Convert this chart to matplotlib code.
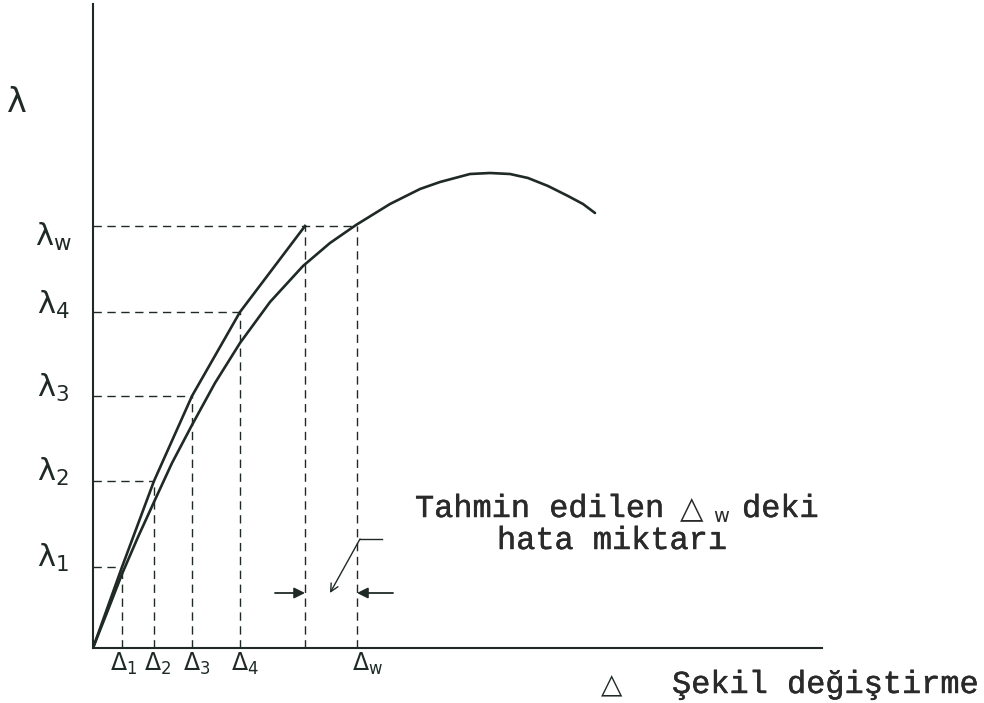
import matplotlib
matplotlib.use("Agg")
import matplotlib.pyplot as plt
import matplotlib.patheffects as pe

plt.rcParams["mathtext.fontset"] = "dejavusans"

INK = "#1f2a25"
MONO = "Liberation Mono"

# Load levels and the matching deformations of the incremental method
lam_levels = [8.1, 16.7, 25.2, 33.6, 42.2]          # λ1, λ2, λ3, λ4, λw
lam_labels = ["λ$_1$", "λ$_2$", "λ$_3$", "λ$_4$", r"λ$_\mathrm{w}$"]
delta_steps = [2.9, 6.1, 9.9, 14.7]                 # Δ1 .. Δ4
delta_labels = ["Δ$_1$", "Δ$_2$", "Δ$_3$", "Δ$_4$"]
delta_est = 21.2                                     # predicted Δw (linear steps)
delta_w = 26.4                                       # true Δw on the curve

# Incremental (piecewise linear) path
step_x = [0.0] + delta_steps + [delta_est]
step_y = [0.0] + lam_levels

# True load-deformation curve
curve_x = [0.0, 1.5, 2.9, 4.5, 6.1, 7.9, 9.9, 12.2, 14.7, 17.7, 21.0, 23.7,
           26.3, 29.7, 32.7, 34.7, 37.7, 39.7, 41.7, 43.5, 45.5, 47.5, 49.0, 50.2]
curve_y = [0.0, 3.8, 7.4, 11.1, 14.6, 18.5, 22.3, 26.5, 30.5, 34.6, 38.2, 40.5,
           42.3, 44.4, 45.9, 46.6, 47.4, 47.5, 47.4, 47.0, 46.2, 45.2, 44.4, 43.5]

fig = plt.figure(figsize=(9.84, 7.03), dpi=100)
ax = fig.add_axes([93 / 984, 55 / 703, 729 / 984, 644 / 703])
ax.set_xlim(0, 72.9)
ax.set_ylim(0, 64.4)
for s in ("top", "right"):
    ax.spines[s].set_visible(False)
for s in ("left", "bottom"):
    ax.spines[s].set_color(INK)
    ax.spines[s].set_linewidth(1.5)
ax.set_xticks([])
ax.set_yticks([])

dash = dict(color=INK, lw=1.0, ls=(0, (6, 4)))

# Guide lines from the axes to each step
xs_end = delta_steps + [delta_w]
for lv, xe in zip(lam_levels, xs_end):
    ax.plot([0, xe], [lv, lv], **dash)
for dx, lv in zip(delta_steps, lam_levels[:4]):
    ax.plot([dx, dx], [0, lv], **dash)
ax.plot([delta_est, delta_est], [0, lam_levels[4]], **dash)
ax.plot([delta_w, delta_w], [0, lam_levels[4]], **dash)

ax.plot(curve_x, curve_y, color=INK, lw=1.9, solid_capstyle="round", solid_joinstyle="round")
ax.plot(step_x, step_y, color=INK, lw=1.9, solid_joinstyle="miter")

# Axis labels
ax.text(-7.6, 54.6, "λ", family="DejaVu Sans", fontsize=24, color=INK,
        ha="center", va="center", clip_on=False)
lab_y = [9.0, 17.6, 26.0, 34.3, 41.1]
for txt, yy in zip(lam_labels, lab_y):
    ax.text(-4.0, yy, txt, family="DejaVu Sans", fontsize=22, color=INK,
            ha="center", va="center", clip_on=False)

dl_x = [3.1, 6.5, 10.4, 15.2]
for txt, xx in zip(delta_labels, dl_x):
    ax.text(xx, -1.6, txt, family="DejaVu Sans", fontsize=17, color=INK,
            ha="center", va="center", clip_on=False)
ax.text(27.5, -1.6, r"Δ$_\mathrm{w}$", family="DejaVu Sans", fontsize=17, color=INK,
        ha="center", va="center", clip_on=False)

bold = [pe.withStroke(linewidth=0.35, foreground="#2a2a2a")]
tc = "#2a2a2a"

ax.text(51.9, -4.5, "△", family="DejaVu Sans", fontsize=20, color=INK,
        ha="center", va="baseline", clip_on=False)
ax.text(57.9, -4.5, "Şekil değiştirme", family=MONO, fontsize=23, color=tc,
        ha="left", va="baseline", clip_on=False, path_effects=bold)

# Error bracket arrows
yarr = 5.5
ax.annotate("", xy=(delta_est, yarr), xytext=(18.2, yarr),
            arrowprops=dict(arrowstyle="-|>", color=INK, lw=1.3, mutation_scale=16, shrinkA=0, shrinkB=0))
ax.annotate("", xy=(delta_w, yarr), xytext=(30.0, yarr),
            arrowprops=dict(arrowstyle="-|>", color=INK, lw=1.3, mutation_scale=16, shrinkA=0, shrinkB=0))
ax.plot([26.7, 28.9], [10.9, 10.9], color=INK, lw=1.0)
ax.annotate("", xy=(23.7, 5.5), xytext=(26.7, 10.9),
            arrowprops=dict(arrowstyle="->", color=INK, lw=1.0, mutation_scale=14, shrinkA=0, shrinkB=0))

# Note text
ax.text(32.2, 13.1, "Tahmin edilen", family=MONO, fontsize=23, color=tc, ha="left",
        va="baseline", clip_on=False, path_effects=bold)
ax.text(59.9, 13.1, "△", family="DejaVu Sans", fontsize=22, color=tc, ha="center",
        va="baseline", clip_on=False)
ax.text(62.8, 12.6, "w", family="DejaVu Sans", fontsize=14, color=tc, ha="center",
        va="baseline", clip_on=False)
ax.text(64.9, 13.1, "deki", family=MONO, fontsize=23, color=tc, ha="left",
        va="baseline", clip_on=False, path_effects=bold)
ax.text(40.4, 9.9, "hata miktarı", family=MONO, fontsize=23, color=tc, ha="left",
        va="baseline", clip_on=False, path_effects=bold)

fig.savefig("out.png", dpi=100)
